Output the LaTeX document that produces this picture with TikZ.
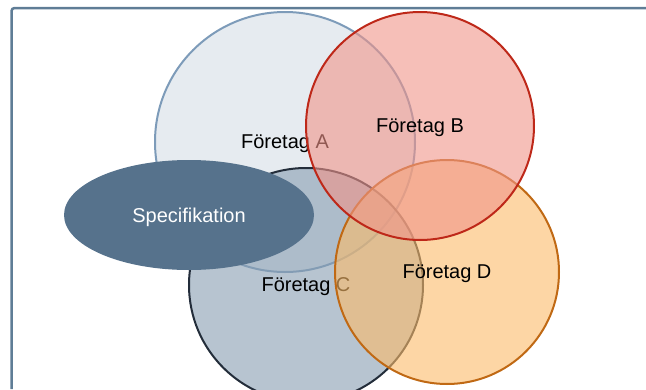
\documentclass[tikz,border=0pt]{standalone}
\usepackage{fontspec}
\setmainfont{Liberation Sans}
\usetikzlibrary{shapes.geometric}
\definecolor{frameblue}{RGB}{95,125,150}
\definecolor{afill}{RGB}{213,222,230}
\definecolor{aline}{RGB}{125,155,185}
\definecolor{bfill}{RGB}{240,148,137}
\definecolor{bline}{RGB}{190,40,25}
\definecolor{cfill}{RGB}{135,157,177}
\definecolor{cline}{RGB}{35,45,58}
\definecolor{dfill}{RGB}{252,187,105}
\definecolor{dline}{RGB}{192,105,20}
\definecolor{specfill}{RGB}{86,114,140}
\tikzset{
  firm/.style={circle, inner sep=0pt, line width=2pt, fill opacity=0.6,
    text opacity=1, text=black, text depth=0pt,
    font=\fontsize{20}{24}\selectfont},
  specbox/.style={ellipse, inner sep=0pt, fill=specfill, draw=none,
    minimum width=250pt, minimum height=110pt, text=white, text depth=0pt,
    font=\fontsize{20}{24}\selectfont},
}
\begin{document}
\begin{tikzpicture}[x=1pt, y=-1pt]
\useasboundingbox (0,0) rectangle (646,389);
% frame along the top and left edges
\coordinate (fb) at (11.5,389);
\coordinate (fc) at (11.5,8);
\coordinate (fr) at (646,8);
\draw[frameblue, line width=2.5pt, rounded corners=3pt] (fb) -- (fc) -- (fr);
% companies
\node[firm, fill=afill, draw=aline, minimum size=260pt] (a) at (285,142) {Företag A};
\node[firm, fill=cfill, draw=cline, minimum size=234pt] (c) at (306,285) {Företag C};
\node[specbox] (spec) at (189,215) {Specifikation};
\node[firm, fill=dfill, draw=dline, minimum size=224pt] (d) at (447,272) {Företag D};
\node[firm, fill=bfill, draw=bline, minimum size=228pt] (b) at (420,126) {Företag B};
\end{tikzpicture}
\end{document}
